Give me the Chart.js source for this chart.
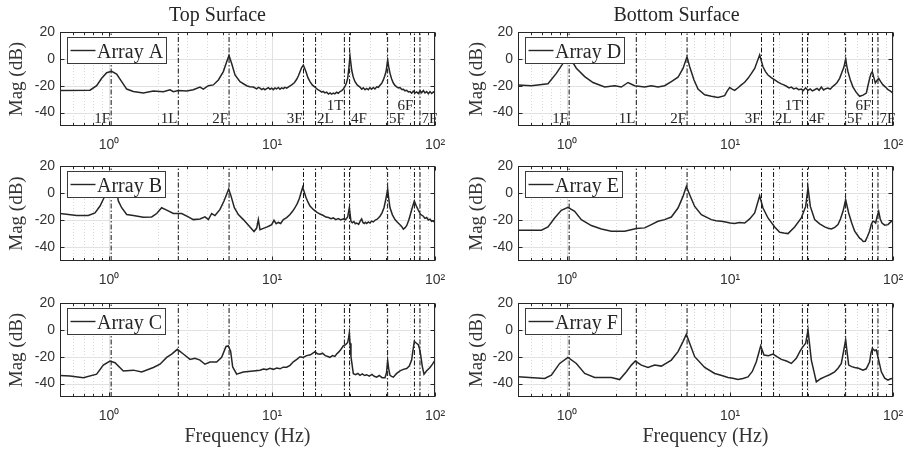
<!DOCTYPE html>
<html>
<head>
<meta charset="utf-8">
<script src="https://cdn.jsdelivr.net/npm/chart.js@4.4.1/dist/chart.umd.min.js"></script>
<style>
  body { margin: 0; background: #fff; width: 905px; height: 452px; position: relative; overflow: hidden; }
  canvas { position: absolute; }
</style>
</head>
<body>
<canvas id="cA"></canvas>
<canvas id="cB"></canvas>
<canvas id="cC"></canvas>
<canvas id="cD"></canvas>
<canvas id="cE"></canvas>
<canvas id="cF"></canvas>
<script>
// mode names and frequencies (Hz)
const modeNames = ['1F', '1L', '2F', '3F', '2L', '1T', '4F', '5F', '6F', '7F'];
const modeFreqs = [1.03, 2.66, 5.45, 15.6, 18.5, 27.8, 29.9, 51.2, 74.8, 80.9];

// tick values
const decadeTicks = [1, 10, 100];
const magTicks = [-40, -20, 0, 20];

// [frequency Hz, magnitude dB]
const arrayA = [[0.5,-23.5],[0.764,-23.3],[0.839,-20],[0.901,-14.5],[0.967,-10.3],[1.037,-9.3],[1.113,-11.3],[1.195,-17],[1.283,-22.5],[1.409,-24.3],[1.623,-25.5],[1.87,-24],[2.153,-24.5],[2.366,-23],[2.48,-24.5],[2.662,-23.5],[2.994,-24],[3.289,-23],[3.614,-21],[3.789,-22.5],[4.067,-20],[4.364,-19.4],[4.685,-15.7],[5.026,-9.5],[5.269,-2.2],[5.445,2.5],[5.654,-3.4],[5.927,-12],[6.361,-17],[6.989,-20],[7.3,-20.8],[7.679,-21],[8.05,-22.3],[8.25,-21.2],[8.437,-21.8],[8.65,-22.9],[8.85,-22],[9.05,-23],[9.271,-22.2],[9.5,-21.4],[9.72,-22.6],[9.95,-21.8],[10.19,-22.9],[10.43,-21.7],[10.68,-22.4],[10.93,-21.3],[11.19,-22.6],[11.45,-21.6],[11.73,-22.2],[12,-21.2],[12.3,-21.8],[12.7,-20.6],[13.2,-19.4],[13.7,-17.8],[14.17,-15.2],[14.5,-12.8],[14.85,-9.6],[15.2,-6.5],[15.56,-4.7],[15.85,-7],[16.16,-9.6],[16.6,-14],[17.1,-17],[17.7,-19.6],[18.35,-21],[19,-22.8],[19.7,-23.8],[20.2,-24.8],[20.6,-24.2],[21.1,-25.3],[21.64,-24.8],[22.2,-26.2],[22.7,-25.4],[23.2,-26.3],[23.78,-25.5],[24.3,-26.1],[24.9,-24.9],[25.5,-25.6],[26.13,-24.3],[26.8,-23.6],[27.4,-22.4],[28.04,-20.6],[28.6,-18],[29.12,-14.5],[29.6,-7],[30.09,2],[30.45,-3],[30.81,-8.3],[31.5,-13.5],[32.29,-17],[33.4,-19.6],[34.66,-21],[35.5,-22.6],[36.3,-21.6],[37.2,-23],[38.08,-22],[39,-23],[39.9,-21.4],[40.8,-22.6],[41.84,-21.3],[42.8,-22.4],[43.9,-20.8],[44.9,-21.2],[45.97,-19.6],[47.1,-18.2],[48.19,-15.7],[49.1,-13],[50.04,-9.6],[50.7,-5],[51.23,-1],[52,-6],[52.96,-10.8],[54.2,-15],[55.5,-18],[56.8,-19.8],[58.2,-20.8],[59.6,-21.6],[60.98,-21.4],[62.5,-22.8],[64,-22.6],[65.5,-23.8],[67,-23.4],[68.6,-24.6],[70.2,-24.4],[71.9,-25.6],[73.6,-24],[75.4,-25.4],[77.18,-24.6],[79,-25.8],[81,-23.8],[82.8,-25.2],[84.8,-23.6],[86.8,-25.4],[88.9,-24.4],[91,-26],[93.18,-24.4],[95.4,-25.8],[97.7,-24.6],[100,-25.4]];
const arrayB = [[0.5,-15],[0.633,-16.5],[0.746,-16.5],[0.82,-14.5],[0.88,-9.5],[0.922,-4.5],[0.967,1],[1.037,5],[1.113,1],[1.14,-5.75],[1.195,-10.75],[1.283,-15.75],[1.409,-16.5],[1.623,-17.75],[1.826,-17.5],[1.96,-15],[2.102,-10.75],[2.257,-12.5],[2.48,-15],[2.79,-15],[3.064,-17.5],[3.289,-19.5],[3.614,-19],[3.879,-17.5],[4.067,-19.5],[4.263,-15],[4.468,-16.5],[4.795,-12],[5.073,-5.75],[5.269,-0.75],[5.419,3],[5.6,-2],[5.872,-10.75],[6.214,-15.75],[6.668,-19.5],[7.325,-25],[7.75,-28.25],[8.05,-25.75],[8.241,-19.5],[8.437,-27],[8.85,-26],[9.271,-25],[9.6,-24.2],[9.95,-23.25],[10.28,-20],[10.6,-22.5],[10.93,-21.6],[11.3,-22.4],[11.73,-19.5],[12.3,-18],[12.89,-15.75],[13.4,-13.2],[13.83,-10.75],[14.3,-7.5],[14.71,-4],[15.42,4.25],[16.16,-3.25],[16.6,-6.5],[17.1,-9.5],[17.9,-12],[18.79,-14],[19.7,-15.4],[20.64,-16.5],[21.4,-17.6],[22.2,-18],[23,-18.8],[23.78,-18.25],[24.6,-19.5],[25.5,-18.8],[26.4,-19.8],[27.38,-19],[28.2,-19.6],[29.12,-17.5],[29.81,-10.75],[30.51,-20.75],[31.1,-21.8],[31.8,-21],[32.4,-22.5],[33.06,-22],[34,-23],[34.8,-20.5],[35.48,-19],[36.1,-21.6],[36.8,-22.4],[37.4,-21.5],[38.08,-22.4],[39,-21.2],[39.9,-22],[40.8,-20.6],[41.84,-21.2],[43,-19.8],[44.2,-19.2],[45.97,-17],[47.3,-14.5],[48.64,-10.75],[50,-4],[51.23,3],[52,-4],[52.96,-10.75],[54.8,-16],[56.83,-19.5],[58.8,-21.5],[60.98,-23.25],[62.4,-24.5],[63.93,-26.5],[65.4,-25.6],[67,-24],[69,-20],[70.9,-15],[72.8,-10],[74.68,-5.75],[76.8,-9.5],[79.01,-12.5],[81.5,-15.6],[84.8,-17],[86.8,-18.6],[88.9,-18],[91,-19.8],[93.18,-19.2],[95.4,-20.8],[97.7,-20.4],[100,-22]];
const arrayC = [[0.5,-33.9],[0.576,-34.4],[0.696,-35.7],[0.839,-33],[0.922,-26.3],[1.013,-23.3],[1.088,-24.5],[1.223,-30.6],[1.409,-30],[1.585,-31.4],[1.87,-28],[2.054,-25.6],[2.257,-20.5],[2.422,-18],[2.624,-14.5],[2.856,-18],[3.139,-22],[3.367,-21.2],[3.614,-22.5],[3.879,-25.6],[4.164,-24],[4.574,-24],[4.909,-20.5],[5.219,-12.4],[5.394,-12],[5.574,-16],[5.735,-27.6],[6.067,-33],[6.668,-31.4],[7.679,-30.6],[8.437,-30],[8.85,-29.2],[9.271,-29.6],[9.7,-28.6],[10.19,-29.4],[10.68,-28.4],[11.2,-29],[11.7,-27.8],[12.3,-27.8],[12.9,-26.4],[13.51,-23.8],[14.2,-22],[14.85,-20],[15.5,-20.6],[16.31,-19.2],[17.2,-18.6],[18.35,-16.2],[19,-17.8],[19.7,-18.2],[20.4,-17.4],[21.2,-19.2],[22,-19.8],[22.68,-20.5],[23.5,-19.2],[24.3,-19.8],[24.92,-18],[25.7,-16.4],[26.5,-14.4],[27.38,-11.9],[28.3,-11],[29.12,-9.4],[29.5,-6],[29.81,-2.3],[30.1,-10],[30.51,-20],[31.54,-32.6],[32.6,-33.4],[33.6,-32.4],[34.66,-33.9],[35.8,-32.8],[37,-34],[38.08,-33.4],[39.5,-34.4],[41,-33.2],[42.4,-34.6],[43.86,-35.2],[45.5,-34],[47.3,-35.6],[49.34,-35.7],[50.4,-32],[51.23,-23],[52,-29],[52.96,-33.9],[54.2,-34.6],[55.5,-35.2],[58,-32.6],[60.98,-30.6],[63.9,-29.4],[67,-28.8],[69.5,-27],[71.9,-22.5],[73.3,-15],[74.68,-8.6],[77,-10],[79.01,-11.1],[80.4,-14],[81.66,-18.7],[83.5,-27],[85.6,-33],[88.9,-30.4],[93.18,-28],[96.5,-25.5],[100,-22.5]];
const arrayD = [[0.5,-19.4],[0.604,-20],[0.764,-18.6],[0.859,-10.8],[0.944,-3.4],[1.013,-1],[1.088,-3],[1.14,-7],[1.283,-13.2],[1.443,-17.6],[1.701,-21],[1.96,-20],[2.153,-21],[2.366,-17.6],[2.599,-20],[2.994,-21],[3.289,-20],[3.614,-21],[3.971,-20],[4.364,-16.9],[4.795,-13.7],[5.146,-7.1],[5.445,1.5],[5.654,-5.9],[6.011,-15.7],[6.361,-22.5],[6.989,-26.7],[7.679,-27.9],[8.437,-28.7],[9.271,-27.4],[9.6,-24],[9.95,-21.3],[10.3,-22.6],[10.68,-23.5],[11.2,-21.5],[11.73,-19.4],[12.3,-17.4],[12.89,-14.5],[13.5,-11],[14.17,-7.1],[15.2,3],[15.93,-5.9],[16.5,-9.5],[17.1,-12],[17.9,-14],[18.79,-15.7],[19.7,-17.4],[20.64,-18.6],[21.4,-19.4],[22.2,-20.4],[23,-21.6],[23.78,-21],[24.6,-22.4],[25.5,-21.8],[26.4,-23],[27.38,-22.5],[28.2,-23.6],[29.1,-21.6],[30.09,-23.6],[31,-22.4],[32,-23.8],[33.06,-23],[34.2,-22],[35.2,-23.4],[36.33,-21],[37.5,-23.2],[38.7,-22.2],[39.92,-21.8],[41.2,-22.6],[42.5,-20.8],[43.86,-19.4],[45.4,-17.6],[47.06,-14.5],[48.6,-10],[50.04,-5.9],[51.23,0],[52,-5],[52.96,-9.6],[54.8,-16],[56.83,-21],[59.5,-25],[62.43,-27.9],[65.5,-27],[68.6,-25.5],[70.2,-20],[71.9,-14.5],[73.3,-11],[74.68,-9.6],[76.3,-14],[77.91,-18],[79.8,-16],[81.66,-14.5],[84,-17],[86.82,-19.4],[90,-21],[93.18,-23],[96.5,-24],[100,-25.5]];
const arrayE = [[0.5,-27.3],[0.696,-27.3],[0.764,-24.9],[0.839,-18.3],[0.922,-12.7],[1.013,-10.5],[1.113,-13.4],[1.223,-19.5],[1.409,-23.9],[1.623,-26.4],[1.87,-28],[2.257,-28],[2.662,-26.1],[2.994,-25.6],[3.289,-23.2],[3.614,-20.7],[3.971,-19.5],[4.364,-17.6],[4.795,-11],[5.146,-2.4],[5.394,5],[5.654,-1.2],[6.067,-9.8],[6.668,-15.9],[7.679,-19.5],[8.2,-20.4],[8.845,-20.7],[9.4,-21.2],[10,-22],[10.68,-22.4],[11.4,-21.6],[12.3,-22],[13.2,-19],[14.17,-14.6],[15.2,-2],[15.93,-11],[17.1,-18.3],[18.79,-24.9],[20.17,-28.8],[21.4,-29.4],[22.68,-29.8],[24.92,-24.9],[27.38,-18.3],[29.12,-9.8],[30.09,4],[31.1,-9.8],[33.06,-19.5],[35.5,-22.6],[38.08,-24.9],[40,-25.8],[41.84,-26.4],[43.9,-25.2],[45.97,-23.2],[47.6,-19],[49.34,-13.4],[51.23,-5],[53.46,-14.6],[55.8,-22],[58.18,-28],[60.9,-31.4],[62.4,-33.2],[63.93,-34],[65.6,-35.6],[67.64,-35.4],[69.7,-32],[71.9,-28],[73.6,-23],[75.38,-20.7],[76.8,-21],[78.27,-22],[80,-17],[81.66,-13.4],[83.5,-19],[85.6,-22],[89,-23.6],[93.18,-23.2],[96.5,-21.4],[100,-20]];
const arrayF = [[0.5,-35],[0.729,-36.25],[0.801,-33.75],[0.901,-25],[1.013,-20.5],[1.14,-25],[1.283,-32.5],[1.477,-35.5],[1.87,-35.5],[2.102,-37],[2.311,-31.25],[2.48,-26.25],[2.624,-23.25],[2.856,-26.25],[3.139,-28],[3.447,-26.25],[3.789,-27],[4.364,-22.5],[4.795,-16.25],[5.146,-8.75],[5.394,-3.25],[5.654,-10],[6.067,-20],[6.989,-28],[8.05,-32.5],[8.8,-33.8],[9.718,-35.5],[10.4,-36],[11.19,-37],[12,-36.2],[12.89,-35],[13.7,-31],[14.5,-23.75],[15.42,-12],[16.16,-18.75],[17.2,-19.2],[18.35,-18],[19.4,-20],[20.64,-22],[22.2,-23.2],[23.78,-25],[25.51,-21.25],[27,-15.5],[28.04,-12.5],[29.12,-10],[30.09,0],[31.54,-22.5],[33.85,-38.75],[36,-36.4],[38.08,-35],[40.8,-33.4],[43.86,-31.25],[46,-28.6],[48.19,-25],[51.23,-7.5],[53.46,-26.25],[55.8,-27.4],[58.18,-28],[61.5,-28.6],[65.45,-30],[68.5,-29],[71.9,-23.75],[73.3,-17],[74.68,-13.75],[77,-15.4],[79.01,-15],[81.5,-22],[84.8,-31.25],[88.9,-36],[93.18,-37.5],[96.5,-36.4],[100,-36.25]];

// label placement next to each mode line (L = left of line, R = right), raised row
const labelSide = ['L', 'L', 'L', 'L', 'R', 'L', 'R', 'R', 'L', 'R'];
const labelRaised = [0, 0, 0, 0, 0, 1, 0, 0, 1, 0];

const INK = '#262626';
const SERIF = '"Liberation Serif", "Times New Roman", serif';
Chart.defaults.font.family = '"Liberation Sans", Arial, sans-serif';

const minorTicks = [];
[0.1, 1, 10].forEach(d => { for (let m = 2; m <= 9; m++) { const v = m * d; if (v > 0.5 && v < 100) minorTicks.push(v); } });

const SUP = { '0': '\u2070', '1': '\u00B9', '2': '\u00B2' };

function seg(ctx, x1, y1, x2, y2) {
  ctx.beginPath(); ctx.moveTo(x1, y1); ctx.lineTo(x2, y2); ctx.stroke();
}

// grid, box, ticks, legend and mode labels drawn matlab style
const framePlugin = {
  id: 'frame',
  beforeDatasetsDraw(chart) {
    const { ctx, chartArea: a } = chart;
    const x = chart.scales.x, y = chart.scales.y;
    ctx.save();
    ctx.lineWidth = 1;
    ctx.strokeStyle = '#d6d6d6';
    ctx.setLineDash([1, 2]);
    minorTicks.forEach(v => { const p = Math.round(x.getPixelForValue(v)) + 0.5; seg(ctx, p, a.top, p, a.bottom); });
    ctx.setLineDash([]);
    ctx.strokeStyle = '#e2e2e2';
    decadeTicks.forEach(v => { const p = Math.round(x.getPixelForValue(v)) + 0.5; seg(ctx, p, a.top, p, a.bottom); });
    magTicks.forEach(v => { const p = Math.round(y.getPixelForValue(v)) + 0.5; seg(ctx, a.left, p, a.right, p); });
    ctx.restore();
  },
  afterDatasetsDraw(chart, args, opts) {
    const { ctx, chartArea: a } = chart;
    const x = chart.scales.x, y = chart.scales.y;
    ctx.save();

    if (opts.modeLabels) {
      ctx.font = '15px ' + SERIF;
      ctx.fillStyle = INK;
      modeFreqs.forEach((f, i) => {
        const p = x.getPixelForValue(f);
        const yb = a.bottom - 3 - (labelRaised[i] ? 13 : 0);
        if (labelSide[i] === 'L') { ctx.textAlign = 'right'; ctx.fillText(modeNames[i], p - 1, yb); }
        else { ctx.textAlign = 'left'; ctx.fillText(modeNames[i], p + 1.5, yb); }
      });
    }

    // box and inward ticks
    const L = Math.round(a.left) + 0.5, R = Math.round(a.right) - 0.5;
    const T = Math.round(a.top) + 0.5, B = Math.round(a.bottom) - 0.5;
    ctx.strokeStyle = INK;
    ctx.lineWidth = 1;
    ctx.strokeRect(L, T, R - L, B - T);
    minorTicks.forEach(v => { const p = Math.round(x.getPixelForValue(v)) + 0.5; seg(ctx, p, B, p, B - 2.5); seg(ctx, p, T, p, T + 2.5); });
    decadeTicks.forEach(v => { const p = Math.round(x.getPixelForValue(v)) + 0.5; seg(ctx, p, B, p, B - 4); seg(ctx, p, T, p, T + 4); });
    magTicks.forEach(v => { const p = Math.round(y.getPixelForValue(v)) + 0.5; seg(ctx, L, p, L + 4, p); seg(ctx, R, p, R - 4, p); });

    // legend
    const label = chart.data.datasets[0].label;
    ctx.font = '20px ' + SERIF;
    const tw = ctx.measureText(label).width;
    const bx = Math.round(a.left) + 7.5, by = Math.round(a.top) + 5.5, bw = Math.round(tw + 33), bh = 26;
    ctx.fillStyle = '#fff';
    ctx.fillRect(bx, by, bw, bh);
    ctx.strokeStyle = '#3a3a3a';
    ctx.strokeRect(bx, by, bw, bh);
    ctx.strokeStyle = INK;
    ctx.lineWidth = 1.4;
    seg(ctx, bx + 3, by + bh / 2, bx + 28, by + bh / 2);
    ctx.fillStyle = INK;
    ctx.textAlign = 'left';
    ctx.textBaseline = 'alphabetic';
    ctx.fillText(label, bx + 29.5, by + bh / 2 + 7);
    ctx.restore();
  }
};

const COLS = [
  { left: 0, yw: 60, pr: 10, title: 'Top Surface' },
  { left: 460, yw: 58, pr: 12, title: 'Bottom Surface' }
];
const ROWS = [
  { top: 0, h: 150, pt: 0, xh: 24 },
  { top: 140, h: 150, pt: 26, xh: 29 },
  { top: 280, h: 172, pt: 23, xh: 55 }
];

const panels = [
  { id: 'cA', label: 'Array A', pts: arrayA, row: 0, col: 0 },
  { id: 'cB', label: 'Array B', pts: arrayB, row: 1, col: 0 },
  { id: 'cC', label: 'Array C', pts: arrayC, row: 2, col: 0 },
  { id: 'cD', label: 'Array D', pts: arrayD, row: 0, col: 1 },
  { id: 'cE', label: 'Array E', pts: arrayE, row: 1, col: 1 },
  { id: 'cF', label: 'Array F', pts: arrayF, row: 2, col: 1 }
];

panels.forEach(pn => {
  const row = ROWS[pn.row], col = COLS[pn.col];
  const cv = document.getElementById(pn.id);
  cv.width = 445; cv.height = row.h;
  cv.style.left = col.left + 'px'; cv.style.top = row.top + 'px';

  const curve = {
    label: pn.label,
    data: pn.pts.map(([f, m]) => ({ x: f, y: m })),
    borderColor: INK, borderWidth: 1.5, pointRadius: 0, tension: 0, order: 0
  };
  const modeLines = modeFreqs.map(f => ({
    label: 'mode',
    data: [{ x: f, y: -50 }, { x: f, y: 20 }],
    borderColor: '#111', borderWidth: 1, borderDash: [5, 2, 1.5, 2],
    pointRadius: 0, order: 1
  }));

  new Chart(cv, {
    type: 'line',
    data: { datasets: [curve, ...modeLines] },
    options: {
      responsive: false,
      animation: false,
      events: [],
      layout: { padding: { top: row.pt, right: col.pr, left: 0, bottom: 0 } },
      plugins: {
        legend: { display: false },
        tooltip: { enabled: false },
        title: {
          display: pn.row === 0,
          text: col.title,
          color: INK,
          font: { family: SERIF, size: 20, weight: 'normal', lineHeight: 1.2 },
          padding: { top: 4, bottom: 4 }
        },
        frame: { modeLabels: pn.row === 0 }
      },
      scales: {
        x: {
          type: 'logarithmic',
          min: 0.5, max: 100,
          grid: { display: false, drawTicks: false },
          border: { display: false },
          afterBuildTicks: s => { s.ticks = decadeTicks.map(v => ({ value: v })); },
          afterFit: s => { s.height = row.xh; s.paddingLeft = 0; s.paddingRight = 0; },
          ticks: {
            autoSkip: false, maxRotation: 0, minRotation: 0, padding: 11,
            color: '#333', font: { size: 14 },
            callback: v => '10' + SUP[String(Math.round(Math.log10(v)))]
          },
          title: {
            display: pn.row === 2,
            text: 'Frequency (Hz)',
            color: '#333',
            font: { family: SERIF, size: 20, lineHeight: 1.2 },
            padding: { top: 0, bottom: 3 }
          }
        },
        y: {
          type: 'linear',
          min: -50, max: 20,
          grid: { display: false, drawTicks: false },
          border: { display: false },
          afterBuildTicks: s => { s.ticks = magTicks.map(v => ({ value: v })); },
          afterFit: s => { s.width = col.yw; s.paddingTop = 0; s.paddingBottom = 0; },
          ticks: { padding: 5, color: '#333', font: { size: 14 } },
          title: {
            display: true,
            text: 'Mag (dB)',
            color: '#333',
            font: { family: SERIF, size: 19, lineHeight: 1.2 },
            padding: { top: 6, bottom: 0 }
          }
        }
      }
    },
    plugins: [framePlugin]
  });
});
</script>
</body>
</html>
